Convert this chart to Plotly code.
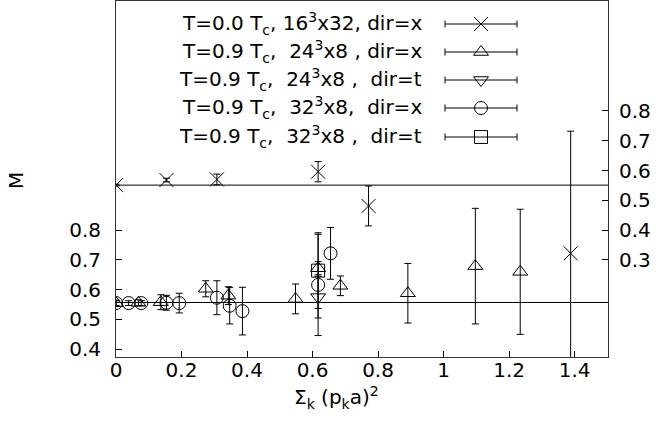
import plotly.graph_objects as go

W, H = 658, 438
ML, MR, MT, MB = 116, 50, 1, 81
FONT = "DejaVu Sans, Liberation Sans, Arial, sans-serif"
FS = 20

# ---------------- data ----------------
# T=0.0 Tc, 16^3x32, dir=x   (plotted on right axis)
x_t0 = [0.0, 0.154, 0.308, 0.617, 0.771, 1.388]
y_t0 = [0.551, 0.568, 0.570, 0.596, 0.481, 0.322]
e_t0 = [0.003, 0.006, 0.018, 0.034, 0.067, 0.41]

# T=0.9 Tc, 24^3x8, dir=x  (left axis)
x_24x = [0.0, 0.0685, 0.137, 0.274, 0.343, 0.548, 0.617, 0.685, 0.891, 1.097, 1.234]
y_24x = [0.555, 0.556, 0.558, 0.603, 0.580, 0.569, 0.672, 0.613, 0.588, 0.679, 0.660]
e_24x = [0.010, 0.010, 0.025, 0.027, 0.030, 0.050, 0.022, 0.033, 0.100, 0.194, 0.210]

# T=0.9 Tc, 24^3x8, dir=t
x_24t = [0.617]
y_24t = [0.575]
e_24t = [0.070]

# T=0.9 Tc, 32^3x8, dir=x
x_32x = [0.0, 0.0386, 0.0771, 0.154, 0.193, 0.308, 0.347, 0.386, 0.617, 0.655]
y_32x = [0.555, 0.555, 0.555, 0.556, 0.555, 0.573, 0.546, 0.528, 0.616, 0.722]
e_32x = [0.008, 0.008, 0.008, 0.025, 0.033, 0.057, 0.061, 0.080, 0.170, 0.087]

# T=0.9 Tc, 32^3x8, dir=t
x_32t = [0.617]
y_32t = [0.664]
e_32t = [0.127]

# constant fits
fit_upper = 0.551   # right axis
fit_lower = 0.557   # left axis

legend_labels = [
    "T=0.0 T<sub>c</sub>, 16<sup>3</sup>x32, dir=x",
    "T=0.9 T<sub>c</sub>,\u00a0 24<sup>3</sup>x8 , dir=x",
    "T=0.9 T<sub>c</sub>,\u00a0 24<sup>3</sup>x8 ,\u00a0 dir=t",
    "T=0.9 T<sub>c</sub>,\u00a0 32<sup>3</sup>x8,\u00a0 dir=x",
    "T=0.9 T<sub>c</sub>,\u00a0 32<sup>3</sup>x8 ,\u00a0 dir=t",
]

x_ticks = [0, 0.2, 0.4, 0.6, 0.8, 1.0, 1.2, 1.4]
x_ticklabels = ["0", "0.2", "0.4", "0.6", "0.8", "1", "1.2", "1.4"]
yl_ticks = [0.4, 0.5, 0.6, 0.7, 0.8]
yr_ticks = [0.3, 0.4, 0.5, 0.6, 0.7, 0.8]

X_RANGE = [0.0, 1.502]
YL_RANGE = [0.374, 1.569]
YR_RANGE = [YL_RANGE[0] - 0.4, YL_RANGE[1] - 0.4]

styles = [
    dict(symbol="x-thin", size=14),
    dict(symbol="triangle-up-open", size=13),
    dict(symbol="triangle-down-open", size=13),
    dict(symbol="circle-open", size=13),
    dict(symbol="square-open", size=13),
]

series = [
    (x_t0, y_t0, e_t0, "y2"),
    (x_24x, y_24x, e_24x, "y"),
    (x_24t, y_24t, e_24t, "y"),
    (x_32x, y_32x, e_32x, "y"),
    (x_32t, y_32t, e_32t, "y"),
]

fig = go.Figure()

for (xs, ys, es, ya), st in zip(series, styles):
    fig.add_trace(go.Scatter(
        x=xs, y=ys, mode="markers", yaxis=ya, showlegend=False,
        marker=dict(symbol=st["symbol"], size=st["size"], color="black",
                    line=dict(color="black", width=1)),
        error_y=dict(type="data", array=es, visible=True, color="black",
                     thickness=1, width=3.5),
    ))

# legend samples drawn in a pixel-mapped overlay axis
leg_rows = [24, 52, 80, 108, 137]
leg_mx, leg_half = 481, 36
for i, st in enumerate(styles):
    fig.add_trace(go.Scatter(
        x=[leg_mx], y=[leg_rows[i]], xaxis="x3", yaxis="y3", mode="markers",
        showlegend=False, hoverinfo="skip",
        marker=dict(symbol=st["symbol"], size=st["size"], color="black",
                    line=dict(color="black", width=1)),
        error_x=dict(type="constant", value=leg_half, visible=True, color="black",
                     thickness=1, width=3.5),
    ))


def px2paper(px, py):
    return (px - ML) / (W - ML - MR), (H - MB - py) / (H - MB - MT)


annotations = []
for i, lab in enumerate(legend_labels):
    annotations.append(dict(
        x=424, y=leg_rows[i] - 1, xref="x3", yref="y3", text=lab,
        showarrow=False, xanchor="right", yanchor="middle",
        font=dict(family=FONT, size=FS, color="black")))

mx, my = px2paper(16, 181)
annotations.append(dict(x=mx, y=my, xref="paper", yref="paper", text="M",
                        textangle=-90, showarrow=False,
                        xanchor="center", yanchor="middle",
                        font=dict(family=FONT, size=FS, color="black")))
tx, ty = px2paper(336, 397)
annotations.append(dict(x=tx, y=ty, xref="paper", yref="paper",
                        text="Σ<sub>k</sub> (p<sub>k</sub>a)<sup>2</sup>",
                        showarrow=False, xanchor="center", yanchor="middle",
                        font=dict(family=FONT, size=FS, color="black")))

shapes = [
    dict(type="line", xref="paper", x0=0, x1=1, yref="y2", y0=fit_upper, y1=fit_upper,
         line=dict(color="black", width=1)),
    dict(type="line", xref="paper", x0=0, x1=1, yref="y", y0=fit_lower, y1=fit_lower,
         line=dict(color="black", width=1)),
]

axis_line = "#333333"
fig.update_layout(
    width=W, height=H,
    margin=dict(l=ML, r=MR, t=MT, b=MB, pad=0),
    paper_bgcolor="white", plot_bgcolor="white",
    font=dict(family=FONT, size=FS, color="black"),
    showlegend=False,
    xaxis=dict(range=X_RANGE, tickvals=x_ticks, ticktext=x_ticklabels,
               ticks="inside", ticklen=6, tickcolor="black", showgrid=False,
               zeroline=False, showline=True, linecolor=axis_line, linewidth=1,
               mirror=True, tickfont=dict(size=FS), ticklabelstandoff=-5),
    yaxis=dict(range=YL_RANGE, tickvals=yl_ticks, ticktext=[f"{v:.1f}" for v in yl_ticks],
               ticks="inside", ticklen=6, tickcolor="black", showgrid=False,
               zeroline=False, showline=True, linecolor=axis_line, linewidth=1,
               mirror=True, tickfont=dict(size=FS), ticklabelstandoff=10),
    yaxis2=dict(range=YR_RANGE, tickvals=yr_ticks, ticktext=[f"{v:.1f}" for v in yr_ticks],
                overlaying="y", side="right", anchor="x",
                ticks="inside", ticklen=6, tickcolor="black", showgrid=False,
                zeroline=False, showline=False, tickfont=dict(size=FS),
                ticklabelstandoff=10),
    xaxis3=dict(range=[ML, W - MR], overlaying="x", anchor="y3", visible=False,
                fixedrange=True),
    yaxis3=dict(range=[H - MB, MT], overlaying="y", anchor="x3", visible=False,
                fixedrange=True),
    annotations=annotations,
    shapes=shapes,
)

fig.write_html(
    "out.html",
    config={"displayModeBar": False},
    post_script="document.body.style.margin='0';document.body.style.padding='0';",
)
